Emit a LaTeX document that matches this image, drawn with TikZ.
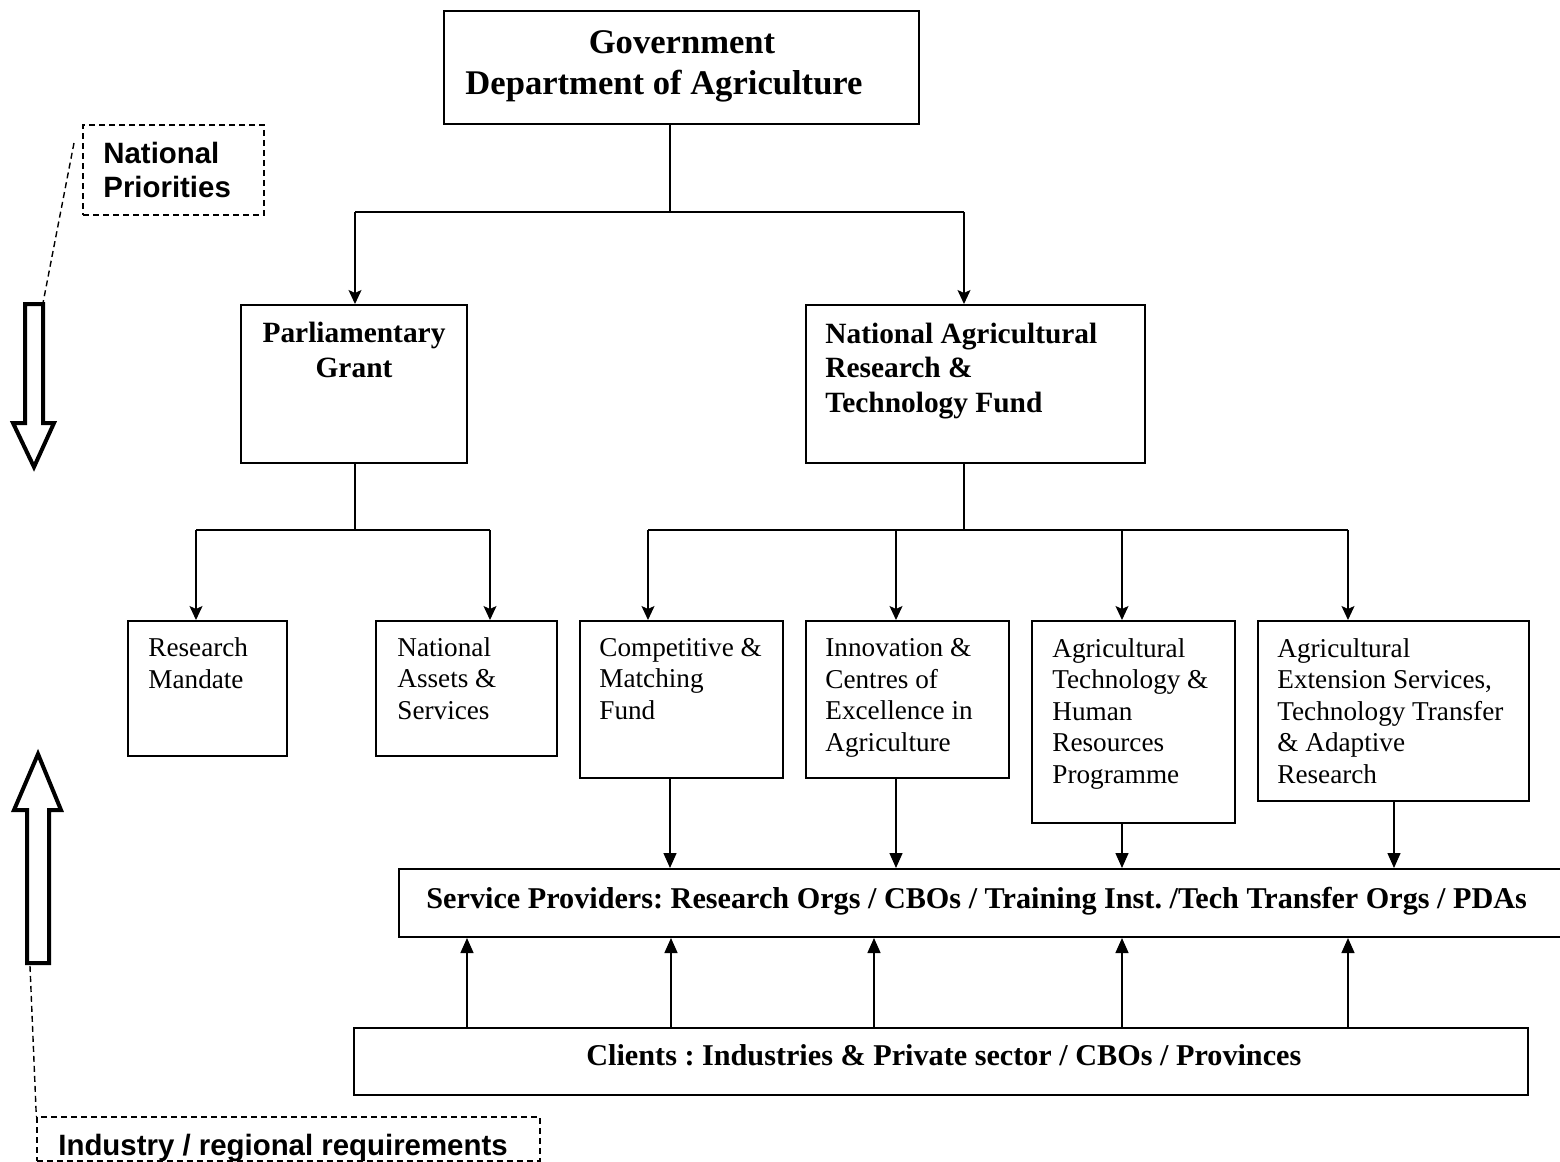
\documentclass[tikz,border=0pt]{standalone}
\usepackage{fontspec}
\setmainfont{Liberation Serif}
\newfontfamily\arialfont{Liberation Sans}
\usetikzlibrary{arrows.meta,fit}
\frenchspacing
\begin{document}
\begin{tikzpicture}[x=0.5pt,y=-0.5pt,
  frame/.style={draw, line width=1pt, inner sep=0pt, rectangle},
  dframe/.style={draw, line width=0.7pt, dash pattern=on 3pt off 2pt, inner sep=0pt, rectangle},
  dline/.style={line width=0.7pt, dash pattern=on 3pt off 2pt},
  conn/.style={line width=0.7pt},
  tarr/.style={conn, -{Stealth[length=7pt,width=6.5pt,inset=1.5pt]}},
  sarr/.style={conn, -{Triangle[length=7.5pt,width=6.5pt]}},
  reg/.style={font=\fontsize{13.6pt}{15.75pt}\selectfont, align=left, inner sep=0pt, anchor=base west},
  hd/.style={font=\bfseries\fontsize{14.7pt}{17.2pt}\selectfont, align=left, inner sep=0pt, anchor=base west},
  wide/.style={font=\bfseries\fontsize{15.1pt}{17.2pt}\selectfont, align=left, inner sep=0pt, anchor=base west},
  gv/.style={font=\bfseries\fontsize{17.3pt}{20.5pt}\selectfont, align=center, inner sep=0pt, anchor=base},
  sans/.style={font=\arialfont\bfseries\fontsize{14.7pt}{17pt}\selectfont, align=left, inner sep=0pt, anchor=base west},
  hollow/.style={draw, line width=2pt, fill=white, line join=miter}
]
\path[use as bounding box] (0,0) rectangle (1560,1162);
\clip (0,0) rectangle (1560,1162);

% boxes
\node[frame, fit={(444,11) (919,124)}] (gov) {};
\node[frame, fit={(241,305) (467,463)}] (parl) {};
\node[frame, fit={(806,305) (1145,463)}] (nartf) {};
\node[frame, fit={(128,621) (287,756)}] (rm) {};
\node[frame, fit={(376,621) (557,756)}] (nas) {};
\node[frame, fit={(580,621) (783,778)}] (comp) {};
\node[frame, fit={(806,621) (1009,778)}] (innov) {};
\node[frame, fit={(1032,621) (1235,823)}] (agt) {};
\node[frame, fit={(1258,621) (1529,801)}] (ext) {};
\node[frame, fit={(399,869) (1590,937)}] (sp) {};
\node[frame, fit={(354,1028) (1528,1095)}] (cl) {};
\node[dframe, fit={(83,125) (264,215)}] (np) {};
\node[dframe, fit={(37,1117) (540,1161)}] (ind) {};

% texts (anchor = baseline of the last line)
\node[gv] (gov-t) at (664,94) {\hspace*{18pt}Government\\Department of Agriculture};
\node[hd, align=center, anchor=base] (parl-t) at (354,377) {Parliamentary\\Grant};
\node[hd] (nartf-t) at (825,412) {National Agricultural\\Research \&\\Technology Fund};
\node[reg] (rm-t) at (148,688) {Research\\Mandate};
\node[reg] (nas-t) at (397,719) {National\\Assets \&\\Services};
\node[reg] (comp-t) at (599,719) {Competitive \&\\Matching\\Fund};
\node[reg] (innov-t) at (825,751) {Innovation \&\\Centres of\\Excellence in\\Agriculture};
\node[reg] (agt-t) at (1052,783) {Agricultural\\Technology \&\\Human\\Resources\\Programme};
\node[reg] (ext-t) at (1277,783) {Agricultural\\Extension Services,\\Technology Transfer\\\& Adaptive\\Research};
\node[wide] (sp-t) at (426,908) {Service Providers: Research Orgs / CBOs / Training Inst. /Tech Transfer Orgs / PDAs};
\node[wide] (cl-t) at (586,1065) {Clients : Industries \& Private sector / CBOs / Provinces};
\node[sans] (np-t) at (103,197) {National\\Priorities};
\node[sans] (ind-t) at (58,1155) {Industry / regional requirements};

% tree connectors
\coordinate (j0) at (670,212);
\coordinate (jl) at (355,212);
\coordinate (jr) at (964,212);
\draw[conn] (gov.south -| j0) -- (j0);
\draw[conn] (jl) -- (jr);
\draw[tarr] (jl) -- (parl.north -| jl);
\draw[tarr] (jr) -- (nartf.north -| jr);

\coordinate (pj) at (355,530);
\coordinate (pl) at (196,530);
\coordinate (pr) at (490,530);
\draw[conn] (parl.south -| pj) -- (pj);
\draw[conn] (pl) -- (pr);
\draw[tarr] (pl) -- (rm.north -| pl);
\draw[tarr] (pr) -- (nas.north -| pr);

\coordinate (nj) at (964,530);
\coordinate (n1) at (648,530);
\coordinate (n2) at (896,530);
\coordinate (n3) at (1122,530);
\coordinate (n4) at (1348,530);
\draw[conn] (nartf.south -| nj) -- (nj);
\draw[conn] (n1) -- (n4);
\draw[tarr] (n1) -- (comp.north -| n1);
\draw[tarr] (n2) -- (innov.north -| n2);
\draw[tarr] (n3) -- (agt.north -| n3);
\draw[tarr] (n4) -- (ext.north -| n4);

% into service providers
\coordinate (d1) at (670,0);
\coordinate (d2) at (896,0);
\coordinate (d3) at (1122,0);
\coordinate (d4) at (1394,0);
\draw[sarr] (comp.south -| d1) -- (sp.north -| d1);
\draw[sarr] (innov.south -| d2) -- (sp.north -| d2);
\draw[sarr] (agt.south -| d3) -- (sp.north -| d3);
\draw[sarr] (ext.south -| d4) -- (sp.north -| d4);

% from clients
\foreach \x [count=\i] in {467,671,874,1122,1348} {
  \coordinate (u\i) at (\x,0);
  \draw[sarr] (cl.north -| u\i) -- (sp.south -| u\i);
}

% hollow arrows
\draw[hollow] (25,304) -- (43,304) -- (43,423) -- (54,423) -- (34,467) -- (13,423) -- (25,423) -- cycle;
\draw[hollow] (27,963) -- (49,963) -- (49,810) -- (61,810) -- (38,754) -- (14,810) -- (27,810) -- cycle;

% dashed leaders
\coordinate (la) at (74,143);
\coordinate (lb) at (43,303);
\coordinate (lc) at (30,966);
\draw[dline] (la) -- (lb);
\draw[dline] (lc) -- (ind.north west);
\end{tikzpicture}
\end{document}
